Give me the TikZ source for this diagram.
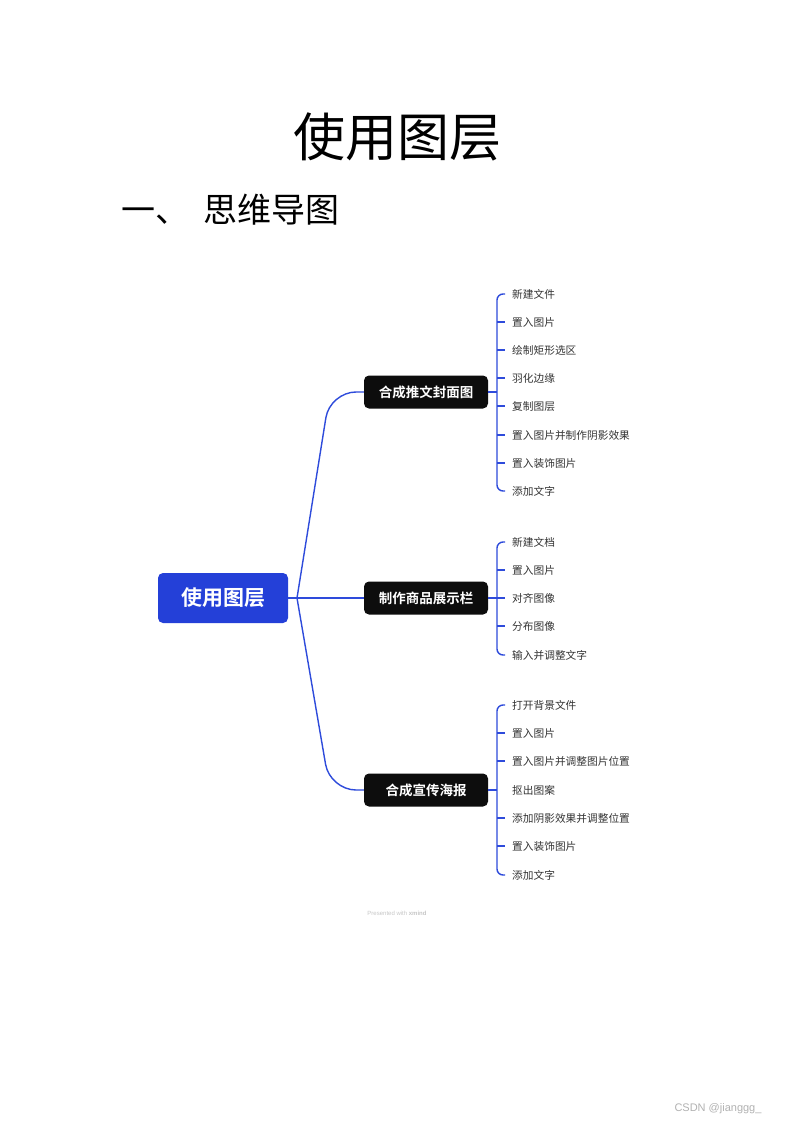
\documentclass[tikz,border=0pt]{standalone}
\usepackage{fontspec}
\newfontfamily\cjk{Noto Sans CJK SC}
\newfontfamily\cjkb{Noto Sans CJK SC Bold}
\setmainfont{Liberation Sans}
\definecolor{xblue}{HTML}{2440D8}
\definecolor{lblue}{HTML}{2E4BDB}
\definecolor{leafc}{HTML}{333333}
\definecolor{bnode}{HTML}{0D0D0D}
\tikzset{
  line/.style={draw=lblue, line width=1.4pt},
  rootbox/.style={fill=xblue, rounded corners=5pt, minimum width=130pt, minimum height=50pt, text=white, font=\cjkb\fontsize{21}{24}\selectfont},
  branchbox/.style={fill=bnode, rounded corners=5pt, minimum width=124pt, minimum height=33pt, text=white, font=\cjkb\fontsize{13.5}{16}\selectfont},
  leaf/.style={anchor=west, inner xsep=7pt, inner ysep=0pt, text=leafc, font=\cjk\fontsize{10.7}{12}\selectfont},
}
\begin{document}
\begin{tikzpicture}[x=1pt,y=-1pt]
\useasboundingbox (0,0) rectangle (793,1122);
\fill[white] (0,0) rectangle (793,1122);

\node[font=\cjk\fontsize{52}{60}\selectfont] (title) at (397,137) {使用图层};
\node[anchor=west, font=\cjk\fontsize{34}{40}\selectfont, inner sep=0pt] (h1) at (121,210) {一、\hspace{14pt}思维导图};

\node[rootbox] (root) at (223,598) {使用图层};
\node[branchbox] (b1) at (426,392) {合成推文封面图};
\node[branchbox] (b2) at (426,598) {制作商品展示栏};
\node[branchbox] (b3) at (426,790) {合成宣传海报};

\coordinate (rj) at (297,598);
\coordinate (c1) at (330,392);
\coordinate (c3) at (330,790);
\draw[line] (root.east) -- (rj);
\draw[line, rounded corners=26pt] (rj) -- (c1) -- (b1.west);
\draw[line] (rj) -- (b2.west);
\draw[line, rounded corners=26pt] (rj) -- (c3) -- (b3.west);

% group 1
\node[leaf] (a1) at (505,294) {新建文件};
\node[leaf] (a2) at (505,322) {置入图片};
\node[leaf] (a3) at (505,350) {绘制矩形选区};
\node[leaf] (a4) at (505,378) {羽化边缘};
\node[leaf] (a5) at (505,406) {复制图层};
\node[leaf] (a6) at (505,435) {置入图片并制作阴影效果};
\node[leaf] (a7) at (505,463) {置入装饰图片};
\node[leaf] (a8) at (505,491) {添加文字};
\coordinate (x1) at (497,392);
\draw[line] (b1.east) -- (x1);
\draw[line, rounded corners=6pt] (a1.west) -- (a1.west -| x1) -- (a8.west -| x1) -- (a8.west);
\foreach \n in {a2,a3,a4,a5,a6,a7} \draw[line] (\n.west -| x1) -- (\n.west);

% group 2
\node[leaf] (m1) at (505,542) {新建文档};
\node[leaf] (m2) at (505,570) {置入图片};
\node[leaf] (m3) at (505,598) {对齐图像};
\node[leaf] (m4) at (505,626) {分布图像};
\node[leaf] (m5) at (505,655) {输入并调整文字};
\coordinate (x2) at (497,598);
\draw[line] (b2.east) -- (x2);
\draw[line, rounded corners=6pt] (m1.west) -- (m1.west -| x2) -- (m5.west -| x2) -- (m5.west);
\foreach \n in {m2,m3,m4} \draw[line] (\n.west -| x2) -- (\n.west);

% group 3
\node[leaf] (p1) at (505,705) {打开背景文件};
\node[leaf] (p2) at (505,733) {置入图片};
\node[leaf] (p3) at (505,761) {置入图片并调整图片位置};
\node[leaf] (p4) at (505,790) {抠出图案};
\node[leaf] (p5) at (505,818) {添加阴影效果并调整位置};
\node[leaf] (p6) at (505,846) {置入装饰图片};
\node[leaf] (p7) at (505,875) {添加文字};
\coordinate (x3) at (497,790);
\draw[line] (b3.east) -- (x3);
\draw[line, rounded corners=6pt] (p1.west) -- (p1.west -| x3) -- (p7.west -| x3) -- (p7.west);
\foreach \n in {p2,p3,p5,p6} \draw[line] (\n.west -| x3) -- (\n.west);

\node[text=black!22, font=\fontsize{6}{7}\selectfont] (pw) at (397,913) {Presented with \textbf{xmind}};
\node[text=black!30, font=\fontsize{11}{13}\selectfont] (wm) at (718,1109) {CSDN @jianggg\_};
\end{tikzpicture}
\end{document}
